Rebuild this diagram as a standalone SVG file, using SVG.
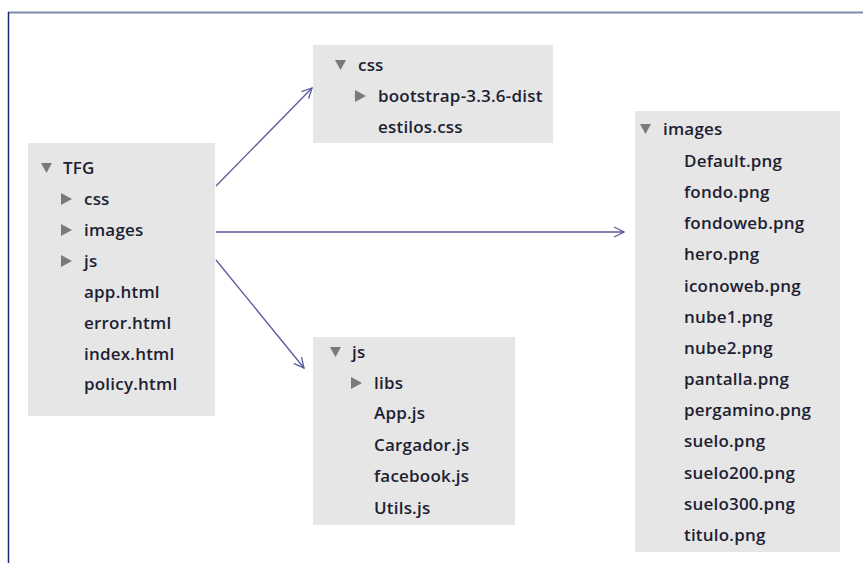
<svg xmlns="http://www.w3.org/2000/svg" width="863" height="563" viewBox="0 0 863 563">
<style>
.box{fill:#e6e6e6}
.t{font-family:"Open Sans","Noto Sans",sans-serif;font-size:17px;font-weight:600;letter-spacing:0.2px;fill:#1e1e32}
.tri{fill:#7a7a7a}
.conn{stroke:#5a5a9a;stroke-width:1.3;fill:none}
</style>
<defs>
<marker id="arr" viewBox="0 0 12 12" refX="11" refY="6" markerWidth="12" markerHeight="12" markerUnits="userSpaceOnUse" orient="auto">
<path d="M1,1 L11,6 L1,11" fill="none" stroke="#5a5a9a" stroke-width="1.3"/>
</marker>
</defs>
<rect width="863" height="563" fill="#fff"/>
<line x1="8" y1="12.5" x2="863" y2="12.5" stroke="#7a8db0" stroke-width="2"/>
<line x1="8.5" y1="12" x2="8.5" y2="563" stroke="#1a2a6c" stroke-width="1.5"/>

<g id="tfg">
<rect class="box" x="28" y="143" width="187" height="273"/>
<path class="tri" d="M41,163 L52,163 L46.5,173 Z"/>
<text class="t" x="63" y="174">TFG</text>
<path class="tri" d="M61,193 L72,199 L61,205 Z"/>
<text class="t" x="84" y="205">css</text>
<path class="tri" d="M61,224 L72,230 L61,236 Z"/>
<text class="t" x="84" y="236">images</text>
<path class="tri" d="M61,255 L72,261 L61,267 Z"/>
<text class="t" x="84" y="267">js</text>
<text class="t" x="84" y="298">app.html</text>
<text class="t" x="84" y="329">error.html</text>
<text class="t" x="84" y="360">index.html</text>
<text class="t" x="84" y="390">policy.html</text>
</g>

<g id="css">
<rect class="box" x="313" y="45" width="240" height="98"/>
<path class="tri" d="M335,60 L346,60 L340.5,70 Z"/>
<text class="t" x="358" y="71">css</text>
<path class="tri" d="M355,90 L366,96 L355,102 Z"/>
<text class="t" x="378" y="102">bootstrap-3.3.6-dist</text>
<text class="t" x="378" y="133">estilos.css</text>
</g>

<g id="js">
<rect class="box" x="313" y="337" width="202" height="188"/>
<path class="tri" d="M330,347 L341,347 L335.5,357 Z"/>
<text class="t" x="352" y="358">js</text>
<path class="tri" d="M351,377 L362,383 L351,389 Z"/>
<text class="t" x="374" y="389">libs</text>
<text class="t" x="374" y="419">App.js</text>
<text class="t" x="374" y="451">Cargador.js</text>
<text class="t" x="374" y="482">facebook.js</text>
<text class="t" x="374" y="514">Utils.js</text>
</g>

<g id="images">
<rect class="box" x="635" y="111" width="205" height="441"/>
<path class="tri" d="M640,124 L651,124 L645.5,134 Z"/>
<text class="t" x="663" y="135">images</text>
<text class="t" x="684" y="167">Default.png</text>
<text class="t" x="684" y="198">fondo.png</text>
<text class="t" x="684" y="229">fondoweb.png</text>
<text class="t" x="684" y="260">hero.png</text>
<text class="t" x="684" y="292">iconoweb.png</text>
<text class="t" x="684" y="323">nube1.png</text>
<text class="t" x="684" y="354">nube2.png</text>
<text class="t" x="684" y="385">pantalla.png</text>
<text class="t" x="684" y="416">pergamino.png</text>
<text class="t" x="684" y="447">suelo.png</text>
<text class="t" x="684" y="479">suelo200.png</text>
<text class="t" x="684" y="510">suelo300.png</text>
<text class="t" x="684" y="541">titulo.png</text>
</g>

<g id="connectors">
<line class="conn" x1="216" y1="186" x2="312" y2="88" marker-end="url(#arr)"/>
<line class="conn" x1="216" y1="232" x2="624" y2="232" marker-end="url(#arr)"/>
<line class="conn" x1="216" y1="260" x2="304" y2="368" marker-end="url(#arr)"/>
</g>
</svg>
